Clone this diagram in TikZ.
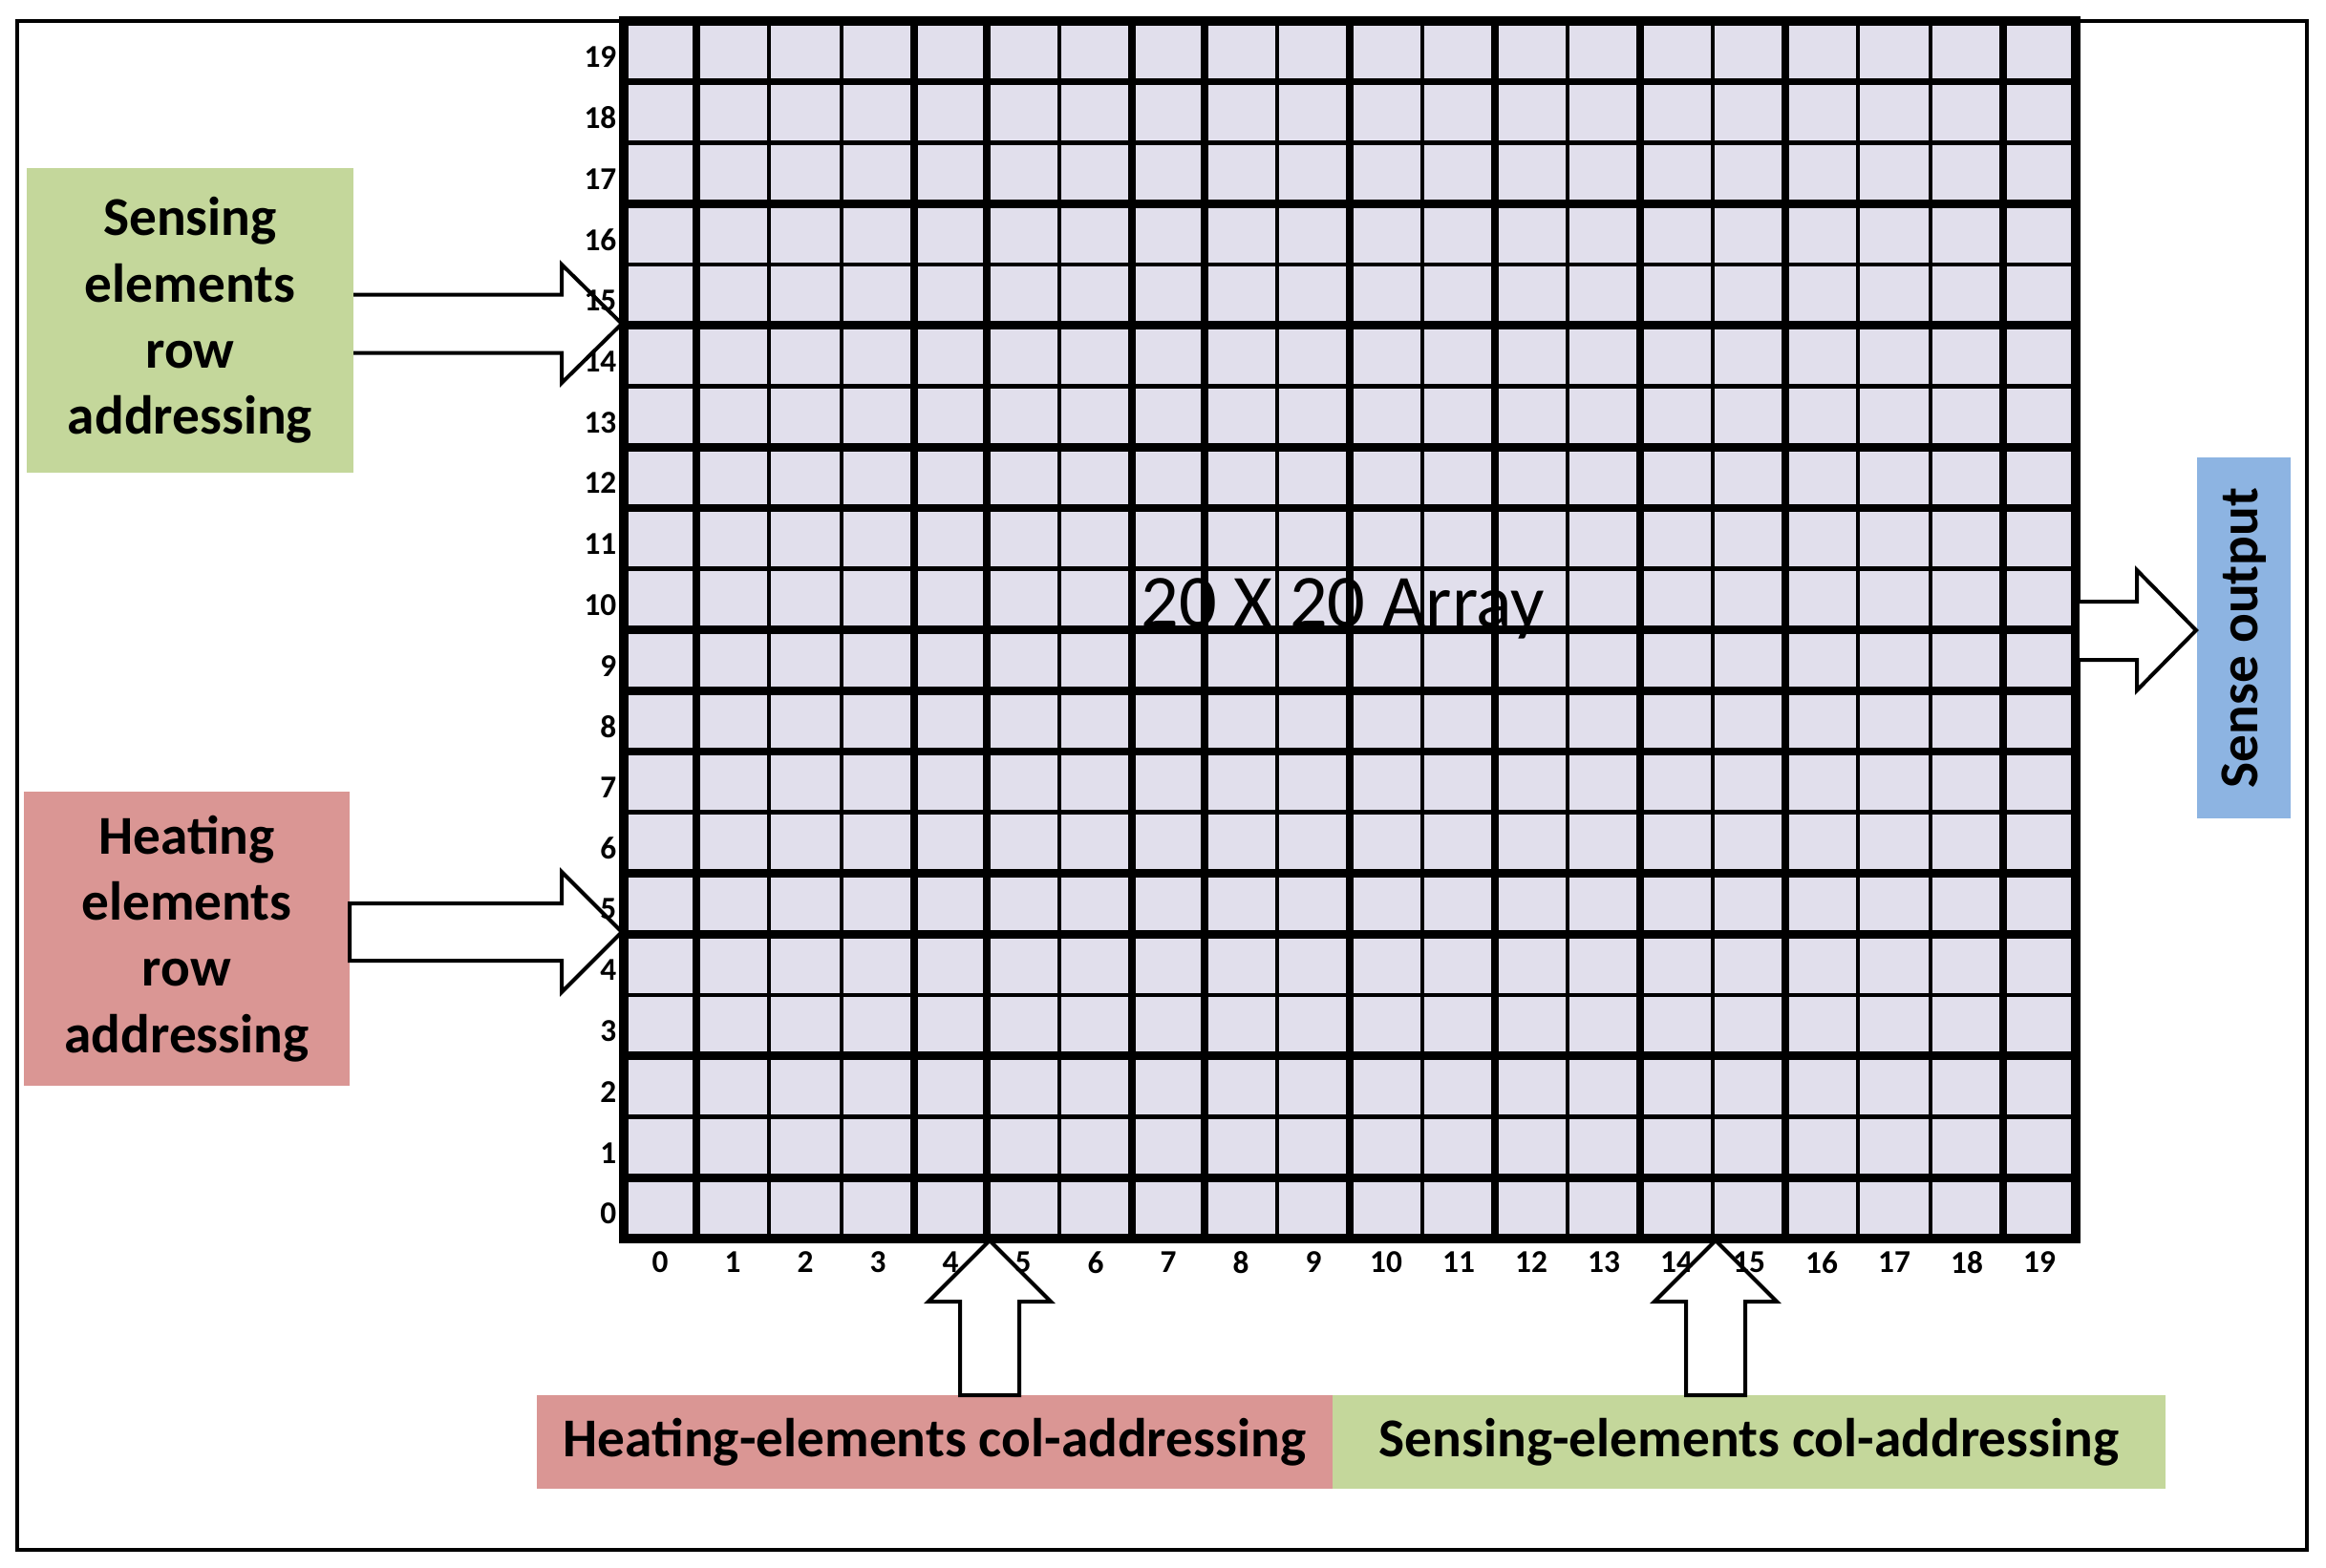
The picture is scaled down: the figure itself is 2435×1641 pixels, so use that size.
\documentclass[tikz,border=0pt]{standalone}
\usepackage{fontspec}
\setmainfont{Carlito}
\definecolor{cellc}{RGB}{225,223,236}
\definecolor{greenbox}{RGB}{196,215,155}
\definecolor{redbox}{RGB}{218,150,148}
\definecolor{bluebox}{RGB}{141,180,226}
\begin{document}
\begin{tikzpicture}[x=0.3pt,y=-0.3pt,
  lbl/.style={font=\bfseries\fontsize{17.2}{20.8}\selectfont, align=center, inner sep=0pt},
  num/.style={font=\bfseries\fontsize{10}{10}\selectfont, inner sep=0pt},
  blockarrow/.style={draw=black, fill=white, line width=1.2pt, line join=miter},
  boxshape/.style={inner sep=0pt, outer sep=0pt}]
\useasboundingbox (0,0) rectangle (2435,1641);
\fill[white] (0,0) rectangle (2435,1641);
% outer frame
\draw[line width=1.4pt] (18,22) rectangle (2415,1623);
% grid
\coordinate (gNW) at (653,22);
\coordinate (gSE) at (2173,1297);
\fill[cellc] (gNW) rectangle (gSE);
\foreach \i/\w in {1/2.6,2/1.4,3/1.4,4/2.6,5/2.6,6/1.4,7/2.6,8/2.6,9/1.4,10/2.6,11/1.4,12/2.6,13/1.4,14/2.6,15/1.4,16/2.6,17/1.4,18/1.4,19/2.6}
  \draw[line width=\w pt] ({653+76*\i},22) -- ({653+76*\i},1297);
\foreach \i/\w in {1/2.1,2/1.4,3/2.6,4/1.4,5/2.6,6/1.4,7/2.6,8/2.6,9/1.4,10/2.6,11/2.6,12/2.6,13/1.4,14/2.6,15/2.6,16/1.4,17/2.6,18/1.4,19/2.6}
  \draw[line width=\w pt] (653,{22+63.75*\i}) -- (2173,{22+63.75*\i});
\draw[line width=3pt] (gNW) rectangle (gSE);
% label boxes
\node[boxshape, fill=greenbox, minimum width=102.6pt, minimum height=95.7pt, lbl] (sensrow) at (199,335.5) {Sensing\\elements\\row\\addressing};
\node[boxshape, fill=redbox, minimum width=102.3pt, minimum height=92.4pt, lbl] (heatrow) at (195.5,983) {Heating\\elements\\row\\addressing};
\node[boxshape, fill=redbox, minimum width=249.9pt, minimum height=29.4pt, lbl] (heatcol) at (978.5,1510) {Heating-elements col-addressing};
\node[boxshape, fill=greenbox, minimum width=261.6pt, minimum height=29.4pt, lbl] (senscol) at (1831,1510) {Sensing-elements col-addressing};
\node[boxshape, fill=bluebox, minimum width=113.4pt, minimum height=29.4pt, lbl, rotate=90] (senseout) at (2349,668) {Sense output};
% block arrows
\draw[blockarrow] (370,308.5) -- (588,308.5) -- (588,277) -- (651,339) -- (588,401) -- (588,369.5) -- (370,369.5);
\draw[blockarrow] (366,946) -- (588,946) -- (588,913) -- (651,976) -- (588,1039) -- (588,1006) -- (366,1006) -- cycle;
\draw[blockarrow] (1005,1461) -- (1005,1363) -- (972,1363) -- (1036,1299) -- (1100,1363) -- (1067,1363) -- (1067,1461) -- cycle;
\draw[blockarrow] (1765,1461) -- (1765,1363) -- (1732,1363) -- (1796,1299) -- (1860,1363) -- (1827,1363) -- (1827,1461) -- cycle;
\draw[blockarrow] (2177,630) -- (2237,630) -- (2237,597) -- (2299,660) -- (2237,723) -- (2237,691) -- (2177,691);
% title
\node[inner sep=0pt, anchor=base, font=\fontsize{23.5}{23.5}\selectfont] (title) at (1406,656) {20 X 20 Array};
% row and column numbers
\foreach \r in {0,...,19}
  \node[num, anchor=east] (row\r) at (646,{1297-63.75*\r-26}) {\r};
\foreach \c in {0,...,19}
  \node[num] (col\c) at ({691+76*\c},1322) {\c};
\end{tikzpicture}
\end{document}
